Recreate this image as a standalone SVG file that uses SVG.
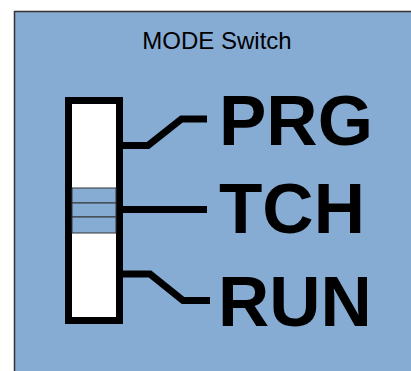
<svg xmlns="http://www.w3.org/2000/svg" width="411" height="371" viewBox="0 0 411 371">
<style>
.lbl{font-family:"Liberation Sans",Arial,sans-serif;font-weight:bold;font-size:71px;fill:#000}
.title{font-family:"Liberation Sans",Arial,sans-serif;font-size:24px;fill:#000}
.wire{fill:none;stroke:#000;stroke-width:7;stroke-linejoin:miter}
.band{fill:#87ACD4;stroke:#333;stroke-width:1}
</style>
<rect width="411" height="371" fill="#fff"/>
<g id="frame">
<rect x="14.5" y="11.5" width="420" height="400" fill="#87ACD4" stroke="#333" stroke-width="1.5"/>
<text class="title" x="217" y="49" text-anchor="middle">MODE Switch</text>
</g>
<g id="switch">
<rect x="68.5" y="100.5" width="51" height="220" fill="#fff" stroke="#000" stroke-width="7"/>
<rect class="band" x="72" y="188" width="44" height="15"/>
<rect class="band" x="72" y="203" width="44" height="14"/>
<rect class="band" x="72" y="217" width="44" height="16"/>
</g>
<g id="connectors">
<path class="wire" d="M122 145.5 H148 L181.5 119 H207"/>
<path class="wire" d="M122 209.5 H207"/>
<path class="wire" d="M122 274 H150 L183 300.5 H210"/>
</g>
<g id="prg"><text class="lbl" x="219" y="145">PRG</text></g>
<g id="tch"><text class="lbl" x="219" y="233">TCH</text></g>
<g id="run"><text class="lbl" x="218" y="325.5">RUN</text></g>
</svg>
